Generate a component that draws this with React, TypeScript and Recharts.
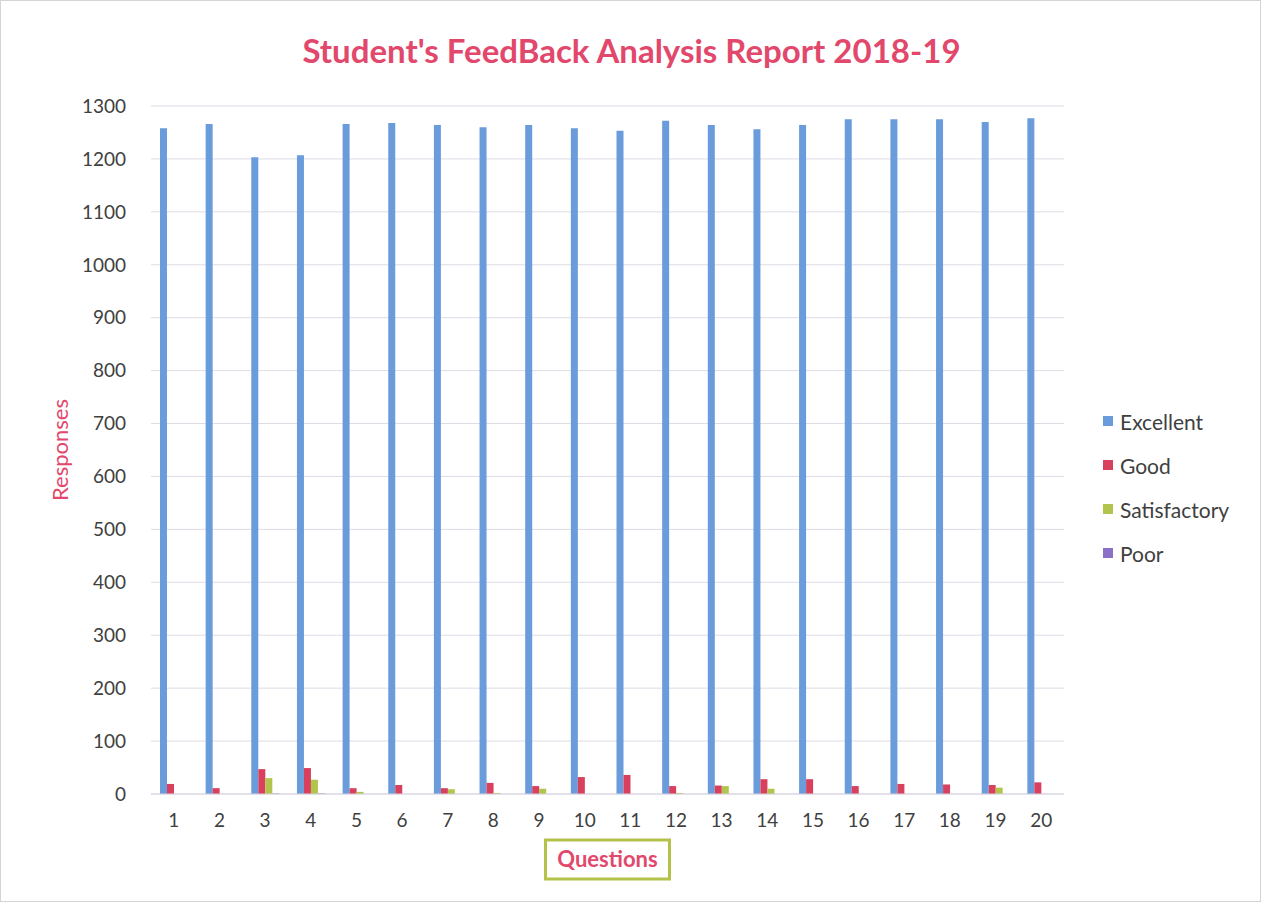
import React from 'react';
import { BarChart, Bar, XAxis, YAxis, CartesianGrid, Legend } from 'recharts';

const questions = ['1', '2', '3', '4', '5', '6', '7', '8', '9', '10', '11', '12', '13', '14', '15', '16', '17', '18', '19', '20'];
const excellent = [1258, 1266, 1203, 1207, 1266, 1268, 1264, 1260, 1264, 1258, 1253, 1272, 1264, 1256, 1264, 1275, 1275, 1275, 1270, 1277];
const good = [19, 11, 47, 49, 11, 17, 11, 21, 15, 32, 36, 15, 16, 28, 28, 15, 19, 18, 17, 22];
const satisfactory = [0, 0, 30, 27, 4, 0, 9, 2, 10, 0, 0, 2, 15, 10, 0, 0, 0, 0, 12, 0];
const poor = [0, 0, 1, 1, 0, 0, 0, 0, 0, 0, 0, 0, 0, 0, 0, 0, 0, 0, 0, 0];
const yTicks = [0, 100, 200, 300, 400, 500, 600, 700, 800, 900, 1000, 1100, 1200, 1300];

const series = [
    { key: 'Excellent', color: '#6a9bdb' },
    { key: 'Good', color: '#d8405e' },
    { key: 'Satisfactory', color: '#b3c44c' },
    { key: 'Poor', color: '#8a70c6' },
];

const data = questions.map((q, i) => ({
    q,
    Excellent: excellent[i],
    Good: good[i],
    Satisfactory: satisfactory[i],
    Poor: poor[i],
}));

const FONT = 'Lato, "Open Sans", sans-serif';
const PINK = '#e2486c';

const QuestionsLabel = (props: any) => {
    const { viewBox } = props;
    const cx = viewBox.x + viewBox.width / 2;
    const top = viewBox.y + 46;
    return (
        <g>
            <rect x={cx - 62} y={top} width={124} height={39} fill="#fff" stroke="#b5c24a" strokeWidth={3} />
            <text x={cx} y={top + 27} textAnchor="middle" fill={PINK} fontSize={22} fontWeight="bold" fontFamily={FONT}>
                Questions
            </text>
        </g>
    );
};

const ResponsesLabel = (props: any) => {
    const { viewBox } = props;
    const cy = viewBox.y + viewBox.height / 2;
    return (
        <text x={58} y={cy} transform={`rotate(-90, 58, ${cy})`} textAnchor="middle" dominantBaseline="central"
            fill={PINK} fontSize={22} fontFamily={FONT}>
            Responses
        </text>
    );
};

const LegendBox = () => (
    <div style={{ fontFamily: FONT, fontSize: 21, color: '#404040' }}>
        {series.map((s) => (
            <div key={s.key} style={{ display: 'flex', alignItems: 'center', height: 44 }}>
                <span style={{ width: 10, height: 10, background: s.color, marginRight: 7, display: 'inline-block' }} />
                <span>{s.key}</span>
            </div>
        ))}
    </div>
);

export default function App() {
    return (
        <div style={{ position: 'absolute', left: 0, top: 0, width: 1261, height: 902, background: '#fff', border: '1px solid #d4d4d4', boxSizing: 'border-box' }}>
            <div style={{ position: 'absolute', left: 0, width: 1261, top: 29, textAlign: 'center', fontFamily: FONT, fontWeight: 'bold', fontSize: 33, color: PINK }}>
                Student's FeedBack Analysis Report 2018-19
            </div>
            <BarChart
                width={1259}
                height={900}
                data={data}
                margin={{ top: 105, right: 46, left: 90, bottom: 77 }}
                barSize={7}
                barGap={0}
            >
                <CartesianGrid vertical={false} stroke="#dedbe6" />
                <XAxis
                    dataKey="q"
                    height={30}
                    tickLine={false}
                    axisLine={{ stroke: '#d6d3de' }}
                    tick={{ fill: '#404040', fontSize: 19, fontFamily: FONT }}
                    tickMargin={14}
                    label={{ content: QuestionsLabel }}
                />
                <YAxis
                    width={60}
                    domain={[0, 1300]}
                    ticks={yTicks}
                    tickLine={false}
                    axisLine={false}
                    tick={{ fill: '#404040', fontSize: 19, fontFamily: FONT }}
                    tickMargin={19}
                    label={{ content: ResponsesLabel }}
                />
                <Legend
                    layout="vertical"
                    align="right"
                    verticalAlign="top"
                    content={LegendBox}
                    wrapperStyle={{ left: 1102, top: 398, width: 150 }}
                />
                {series.map((s) => (
                    <Bar key={s.key} dataKey={s.key} fill={s.color} isAnimationActive={false} />
                ))}
            </BarChart>
        </div>
    );
}
